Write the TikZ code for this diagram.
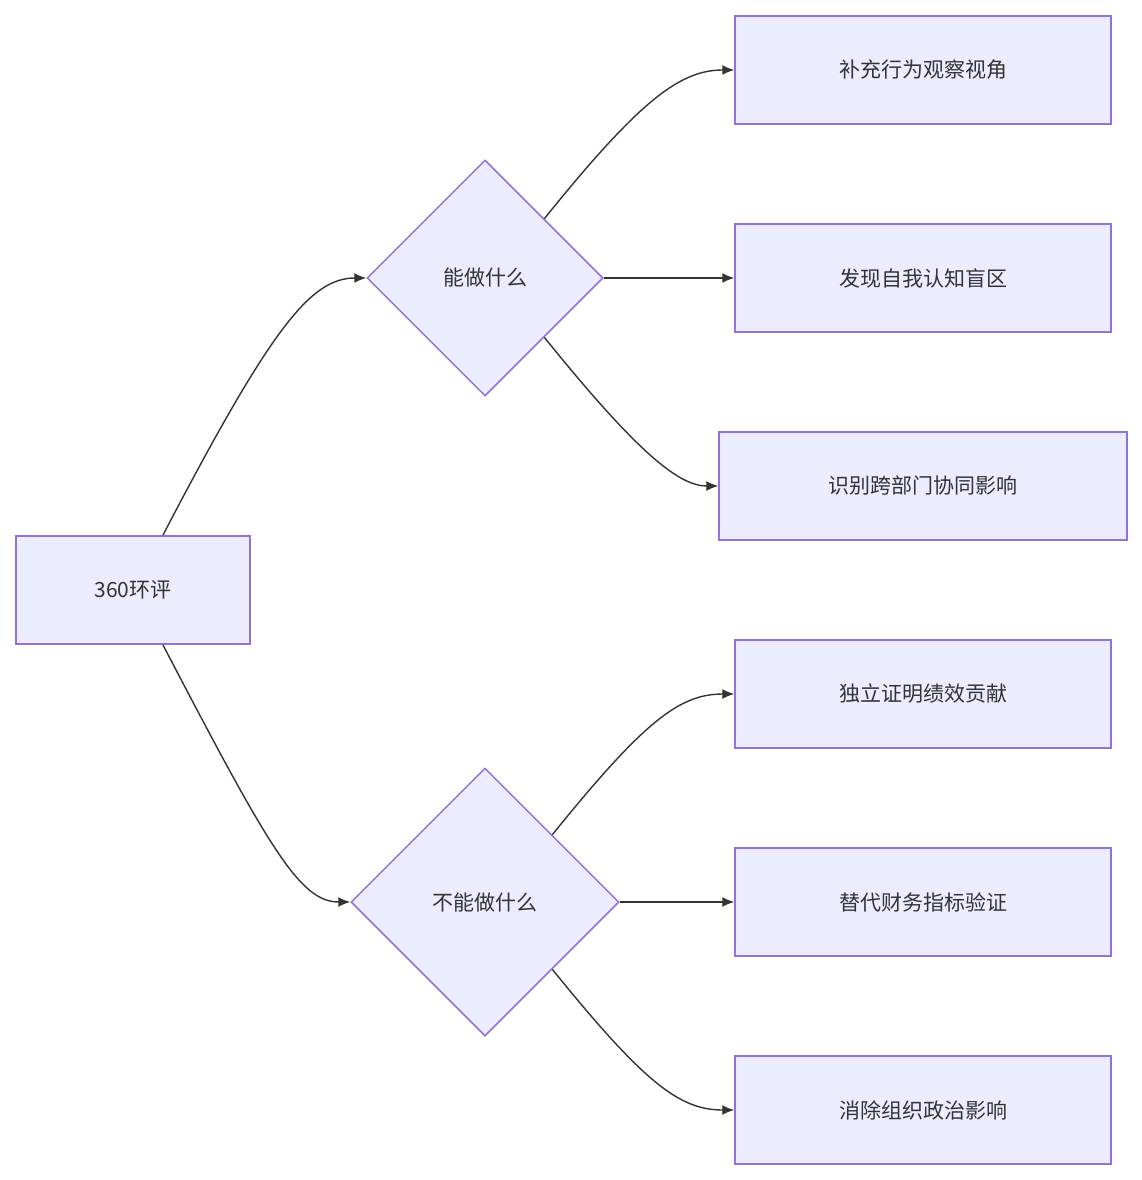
\documentclass[tikz,border=0pt]{standalone}
\usepackage{fontspec}
\setmainfont{Noto Sans CJK SC}
\usetikzlibrary{shapes.geometric,arrows.meta}
\definecolor{boxfill}{HTML}{ECECFF}
\definecolor{boxline}{HTML}{9370DB}
\definecolor{ink}{HTML}{333333}
\tikzset{
  box/.style={draw=boxline, fill=boxfill, line width=1.5pt, minimum height=108pt, text=ink, font=\fontsize{21}{25}\selectfont, inner sep=0pt},
  choice/.style={diamond, draw=boxline, fill=boxfill, line width=1.5pt, inner sep=0pt, text=ink, font=\fontsize{21}{25}\selectfont},
  link/.style={draw=ink, line width=1.4pt, -{Latex[length=12pt,width=10pt]}}
}
\begin{document}
\begin{tikzpicture}[x=1pt,y=-1pt]
  \useasboundingbox (0,0) rectangle (1142,1180);
  \node[box, minimum width=234pt] (root) at (133,590) {360环评};
  \node[choice, minimum width=236pt, minimum height=236pt] (can) at (485,278) {能做什么};
  \node[choice, minimum width=268pt, minimum height=268pt] (cannot) at (485,902) {不能做什么};
  \node[box, minimum width=376pt] (b1) at (923,70) {补充行为观察视角};
  \node[box, minimum width=376pt] (b2) at (923,278) {发现自我认知盲区};
  \node[box, minimum width=408pt] (b3) at (923,486) {识别跨部门协同影响};
  \node[box, minimum width=376pt] (b4) at (923,694) {独立证明绩效贡献};
  \node[box, minimum width=376pt] (b5) at (923,902) {替代财务指标验证};
  \node[box, minimum width=376pt] (b6) at (923,1110) {消除组织政治影响};
  % connectors
  \coordinate (rtop) at (163,535);
  \coordinate (rbot) at (163,645);
  \path[link] (rtop) .. controls (270,330) and (310,278) .. (can.west);
  \path[link] (rbot) .. controls (270,850) and (300,902) .. (cannot.west);
  \path[link] (can.north east) .. controls (640,100) and (680,70) .. (b1.west);
  \path[link] (can.east) -- (b2.west);
  \path[link] (can.south east) .. controls (640,456) and (680,486) .. (b3.west);
  \path[link] (cannot.north east) .. controls (645,720) and (680,694) .. (b4.west);
  \path[link] (cannot.east) -- (b5.west);
  \path[link] (cannot.south east) .. controls (645,1084) and (680,1110) .. (b6.west);
\end{tikzpicture}
\end{document}
